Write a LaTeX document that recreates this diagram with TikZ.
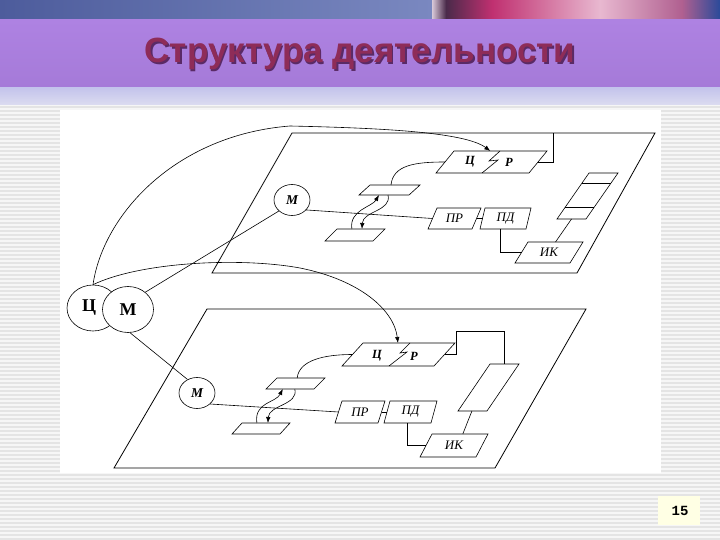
\documentclass[tikz,border=0pt]{standalone}
\usepackage{fontspec}
\setmainfont{Liberation Serif}
\newfontfamily\titlefont{Liberation Sans}
\newfontfamily\numfont{Liberation Mono}
\usetikzlibrary{shapes.geometric,arrows.meta,calc}
\definecolor{titlecol}{HTML}{8E2C58}
\definecolor{titleshadow}{HTML}{5A2A66}
\definecolor{bandtop}{HTML}{AE82E2}
\definecolor{bandmid}{HTML}{CDA6FA}
\definecolor{bandbot}{HTML}{A57AD8}
\definecolor{lav1}{HTML}{C4C4EC}
\definecolor{lav2}{HTML}{DCDCF0}
\definecolor{stripeA}{HTML}{E4E4E4}
\definecolor{stripeB}{HTML}{F6F6F6}
\definecolor{numbg}{HTML}{FFFFE4}
\newcommand{\pgram}[6]{%
  \coordinate (#1-tl) at (#2,#3);
  \coordinate (#1-tr) at ({#2+#4},#3);
  \coordinate (#1-br) at ({#2+#4-#6},{#3+#5});
  \coordinate (#1-bl) at ({#2-#6},{#3+#5});
  \draw[box] (#1-tl) -- (#1-tr) -- (#1-br) -- (#1-bl) -- cycle;
  \coordinate (#1) at ({#2+(#4-#6)/2},{#3+#5/2});
}
\tikzset{
  plane/.style={draw=black, line width=0.8pt},
  box/.style={draw=black, line width=0.6pt, fill=white},
  conn/.style={draw=black, line width=0.6pt},
  arr/.style={conn, -{Latex[length=6pt,width=4.5pt]}},
  lbl/.style={inner sep=0pt, font=\fontsize{13}{13}\selectfont\itshape},
  crlbl/.style={inner sep=0pt, font=\fontsize{12.5}{12.5}\selectfont\bfseries\itshape},
  smallcirc/.style={ellipse, draw=black, line width=0.6pt, fill=white, inner sep=0pt,
     minimum width=36pt, minimum height=31pt, font=\fontsize{13.5}{13.5}\selectfont\bfseries\itshape},
  bigcirc/.style={ellipse, draw=black, line width=0.6pt, fill=white, inner sep=0pt,
     minimum width=51pt, minimum height=46pt, font=\fontsize{18}{18}\selectfont\bfseries}
}
\begin{document}
\begin{tikzpicture}[x=1pt,y=-1pt]
\useasboundingbox (0,0) rectangle (720,540);
% ---------- slide background ----------
\fill[stripeB] (0,105) rectangle (720,540);
\foreach \yy in {106,110,...,538} \fill[stripeA] (0,\yy) rectangle (720,{\yy+2});
\shade[left color={rgb,255:red,77;green,92;blue,156}, right color={rgb,255:red,122;green,136;blue,192}] (0,0) rectangle (432,20);
\shade[left color={rgb,255:red,216;green,200;blue,216}, right color={rgb,255:red,74;green,42;blue,74}] (432,0) rectangle (446,20);
\shade[left color={rgb,255:red,74;green,42;blue,74}, right color={rgb,255:red,192;green,48;blue,112}] (446,0) rectangle (492,20);
\shade[left color={rgb,255:red,192;green,48;blue,112}, right color={rgb,255:red,232;green,184;blue,208}] (492,0) rectangle (600,20);
\shade[left color={rgb,255:red,232;green,184;blue,208}, right color={rgb,255:red,176;green,96;blue,144}] (600,0) rectangle (682,20);
\shade[left color={rgb,255:red,176;green,96;blue,144}, right color={rgb,255:red,42;green,74;blue,154}] (682,0) rectangle (720,20);
\shade[top color=bandtop, middle color=bandmid, bottom color=bandbot] (0,20) rectangle (720,88);
\shade[top color=lav1, bottom color=lav2] (0,88) rectangle (720,105);
\node[anchor=base, text=titleshadow, font=\titlefont\bfseries\fontsize{35}{35}\selectfont] (titleshd) at (361.5,64.5) {Структура деятельности};
\node[anchor=base, text=titlecol, font=\titlefont\bfseries\fontsize{35}{35}\selectfont] (title) at (360,63) {Структура деятельности};
\fill[white] (60,110) rectangle (661,473);
\fill[numbg] (658,496) rectangle (700,525);
\node[font=\numfont\bfseries\fontsize{14}{14}\selectfont] (pagenum) at (680,511) {15};
% ---------- planes ----------
\coordinate (P1a) at (292,133); \coordinate (P1b) at (655,133);
\coordinate (P1c) at (577,273); \coordinate (P1d) at (212,273);
\draw[plane] (P1a) -- (P1b) -- (P1c) -- (P1d) -- cycle;
\coordinate (P2a) at (207,309); \coordinate (P2b) at (586,309);
\coordinate (P2c) at (495,468); \coordinate (P2d) at (114,468);
\draw[plane] (P2a) -- (P2b) -- (P2c) -- (P2d) -- cycle;
% ---------- upper plane ----------
\pgram{ub1}{370}{185}{50}{10}{11}
\pgram{lb1}{337}{229}{48}{12}{12}
\pgram{cr1}{454}{151}{93}{22}{18}
\pgram{st1}{589}{173}{29}{46}{32}
\pgram{pr1}{437}{208}{44}{21}{9}
\pgram{pd1}{485}{208}{46}{21}{5}
\pgram{ik1}{528}{242}{55}{21}{13}
\draw[conn] (500,151) -- (489,161) -- (498,160) -- (482,173);
\draw[conn] ($(st1-tl)!0.22!(st1-bl)$) -- ($(st1-tr)!0.22!(st1-br)$);
\draw[conn] ($(st1-tl)!0.74!(st1-bl)$) -- ($(st1-tr)!0.74!(st1-br)$);
\node[crlbl] (c1t) at (470,162) {Ц};
\node[crlbl] (r1t) at (509,162) {Р};
\node[lbl] (pr1t) at (pr1) {ПР};
\node[lbl] (pd1t) at (pd1) {ПД};
\node[lbl] (ik1t) at (ik1) {ИК};
\node[smallcirc] (mT) at (292,200) {М};
\coordinate (k1) at (553,133);
\draw[conn] ($(cr1-tr)!0.5!(cr1-br)$) -| (k1);
\draw[conn] ($(st1-tl)!0.45!(st1-tr)$) -- ($(st1-tl)!0.45!(st1-tr)$ |- P1a);
\draw[conn] ($(st1-bl)!0.5!(st1-br)$) -- ($(ik1-tl)!0.5!(ik1-tr)$);
\draw[conn] (mT.-35) -- ($(pr1-tl)!0.5!(pr1-bl)$);
\draw[conn] ($(pr1-tr)!0.5!(pr1-br)$) -- ($(pd1-tl)!0.5!(pd1-bl)$);
\draw[conn] ($(pd1-bl)!0.45!(pd1-br)$) |- ($(ik1-tl)!0.5!(ik1-bl)$);
\draw[conn] ($(ub1-tl)!0.42!(ub1-tr)$) .. controls +(2,-20) and +(-30,0) .. ($(cr1-tl)!0.5!(cr1-bl)$);
\draw[arr] ($(lb1-tl)!0.31!(lb1-tr)$) .. controls +(-3,-19) and +(-7,12) .. ($(ub1-bl)!0.4!(ub1-br)$);
\draw[arr] ($(ub1-bl)!0.58!(ub1-br)$) .. controls +(4,16) and +(1,-18) .. ($(lb1-tl)!0.52!(lb1-tr)$);
% ---------- lower plane ----------
\pgram{ub2}{277}{378}{48}{11}{11}
\pgram{lb2}{242}{423}{48}{11}{10}
\pgram{cr2}{363}{343}{92}{23}{21}
\pgram{tb2}{490}{364}{29}{47}{32}
\pgram{pr2}{342}{401}{43}{22}{7}
\pgram{pd2}{390}{401}{47}{22}{6}
\pgram{ik2}{432}{434}{56}{23}{12}
\draw[conn] (410,343) -- (400,353) -- (407,352) -- (389,366);
\node[crlbl] (c2t) at (377,356) {Ц};
\node[crlbl] (r2t) at (414,356) {Р};
\node[lbl] (pr2t) at (pr2) {ПР};
\node[lbl] (pd2t) at (pd2) {ПД};
\node[lbl] (ik2t) at (ik2) {ИК};
\node[smallcirc] (mB) at (197,393) {М};
\coordinate (k2) at (456,331);
\draw[conn] ($(cr2-tr)!0.5!(cr2-br)$) -| (k2) -| ($(tb2-tl)!0.48!(tb2-tr)$);
\draw[conn] ($(tb2-bl)!0.48!(tb2-br)$) -- ($(ik2-tl)!0.55!(ik2-tr)$);
\draw[conn] (mB.-40) -- ($(pr2-tl)!0.5!(pr2-bl)$);
\draw[conn] ($(pr2-tr)!0.5!(pr2-br)$) -- ($(pd2-tl)!0.5!(pd2-bl)$);
\draw[conn] ($(pd2-bl)!0.49!(pd2-br)$) |- ($(ik2-tl)!0.5!(ik2-bl)$);
\draw[conn] ($(ub2-tl)!0.42!(ub2-tr)$) .. controls +(2,-18) and +(-28,0) .. ($(cr2-tl)!0.5!(cr2-bl)$);
\draw[arr] ($(lb2-tl)!0.31!(lb2-tr)$) .. controls +(-3,-21) and +(-7,14) .. ($(ub2-bl)!0.35!(ub2-br)$);
\draw[arr] ($(ub2-bl)!0.6!(ub2-br)$) .. controls +(4,16) and +(1,-18) .. ($(lb2-tl)!0.54!(lb2-tr)$);
% ---------- big circles ----------
\node[bigcirc, minimum width=52pt] (Cbig) at (93,308) {\hspace*{-8pt}Ц};
\node[bigcirc] (Mbig) at (128,309.5) {М};
\draw[arr] (Cbig.90) .. controls (103,215) and (175,135) .. (290,126)
   .. controls (380,128) and (465,132) .. ($(cr1-tl)!0.39!(cr1-tr)$);
\draw[arr] (Cbig.90) .. controls (140,262) and (240,257) .. (300,268)
   .. controls (360,280) and (394,310) .. ($(cr2-tl)!0.38!(cr2-tr)$);
\draw[conn] (Mbig.45) -- (mT.220);
\draw[conn] (Mbig.-85) -- (mB.125);
\end{tikzpicture}
\end{document}
